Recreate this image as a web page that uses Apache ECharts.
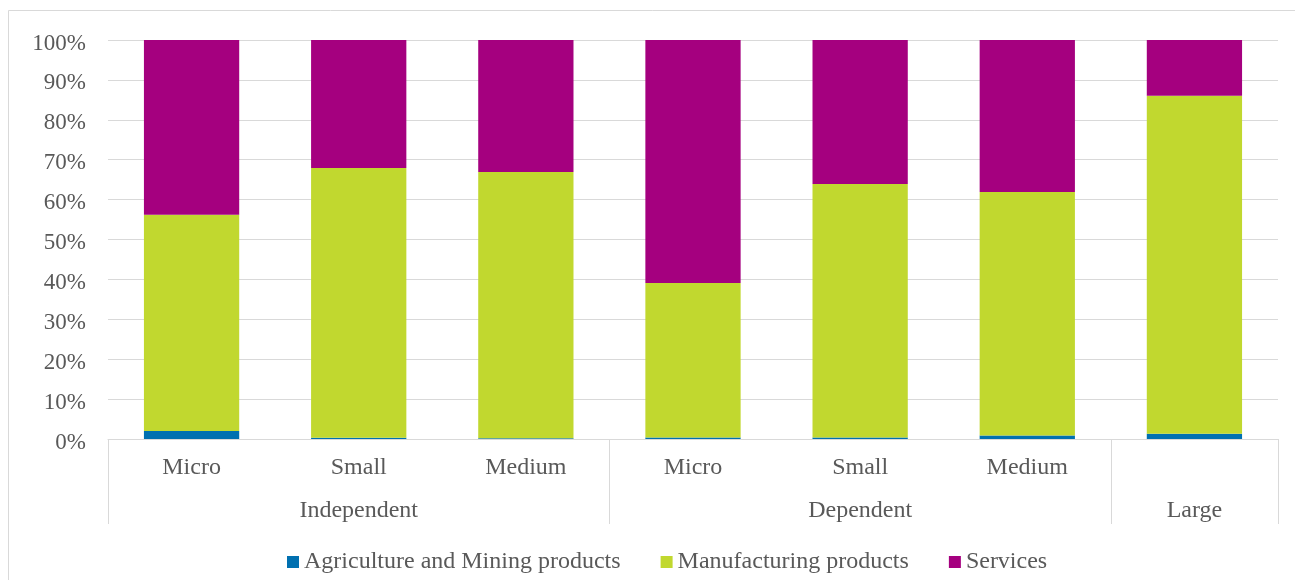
<!DOCTYPE html>
<html>
<head>
<meta charset="utf-8">
<script src="https://cdn.jsdelivr.net/npm/echarts@6/dist/echarts.min.js"></script>
<style>
html,body{margin:0;padding:0;background:#fff;}
#main{width:1295px;height:580px;}
</style>
</head>
<body>
<div id="main"></div>
<script>
// Data
const categories = ['Micro', 'Small', 'Medium', 'Micro', 'Small', 'Medium', ''];
const groups = ['Independent', 'Dependent', 'Large'];
const groupBounds = [0, 3, 6, 7];
const groupCenters = [1.5, 4.5, 6.5];
const agriculture = [2.0, 0.3, 0.2, 0.4, 0.4, 0.9, 1.3];
const manufacturing = [54.2, 67.6, 66.7, 38.7, 63.5, 61.0, 84.7];
const services = [43.8, 32.1, 33.1, 60.9, 36.1, 38.1, 14.0];
const seriesNames = ['Agriculture and Mining products', 'Manufacturing products', 'Services'];
const yTicks = [0, 10, 20, 30, 40, 50, 60, 70, 80, 90, 100];

const FONT = 'Liberation Serif';
const TXT = '#595959';
const GRID = '#d9d9d9';
const colors = ['#0070b0', '#c1d82f', '#a5007f'];

const chart = echarts.init(document.getElementById('main'), null, {renderer: 'canvas'});
const mk = (name, data, i) => ({
  name, type: 'bar', stack: 'total', data, barWidth: '57%',
  itemStyle: {color: colors[i]}, xAxisIndex: 0, yAxisIndex: 0
});
chart.setOption({
  animation: false,
  backgroundColor: '#fff',
  graphic: [{
    type: 'rect', shape: {x: 8.5, y: 10.5, width: 1295, height: 580},
    style: {fill: 'none', stroke: GRID, lineWidth: 1}, silent: true
  }],
  grid: {left: 108, right: 17, top: 40, bottom: 141, containLabel: false},
  legend: {
    data: seriesNames, left: 282, top: 545, icon: 'rect',
    itemWidth: 12, itemHeight: 12, itemGap: 40,
    textStyle: {fontFamily: FONT, fontSize: 24, color: TXT}
  },
  xAxis: [{
    type: 'category', data: categories, position: 'bottom',
    axisLine: {lineStyle: {color: GRID, width: 1}},
    axisTick: {show: false},
    axisLabel: {interval: 0, margin: 17, fontFamily: FONT, fontSize: 24, color: TXT}
  }, {
    type: 'value', min: 0, max: 7, position: 'bottom', offset: 0,
    axisLine: {show: false}, splitLine: {show: false},
    axisTick: {show: true, customValues: groupBounds, length: 85, lineStyle: {color: GRID, width: 1}},
    axisLabel: {
      customValues: groupCenters, margin: 60, fontFamily: FONT, fontSize: 24, color: TXT,
      formatter: v => groups[groupCenters.indexOf(v)] || ''
    }
  }],
  yAxis: {
    type: 'value', min: 0, max: 100, interval: 10,
    axisLine: {show: false}, axisTick: {show: false},
    splitLine: {lineStyle: {color: GRID, width: 1}},
    axisLabel: {margin: 22, fontFamily: FONT, fontSize: 23, color: TXT,
      rich: {a: {fontFamily: FONT, fontSize: 23, color: TXT, padding: [7, 0, 0, 0]}},
      formatter: v => yTicks.includes(v) ? '{a|' + v + '%}' : ''}
  },
  series: [mk(seriesNames[0], agriculture, 0), mk(seriesNames[1], manufacturing, 1), mk(seriesNames[2], services, 2)]
});
</script>
</body>
</html>
